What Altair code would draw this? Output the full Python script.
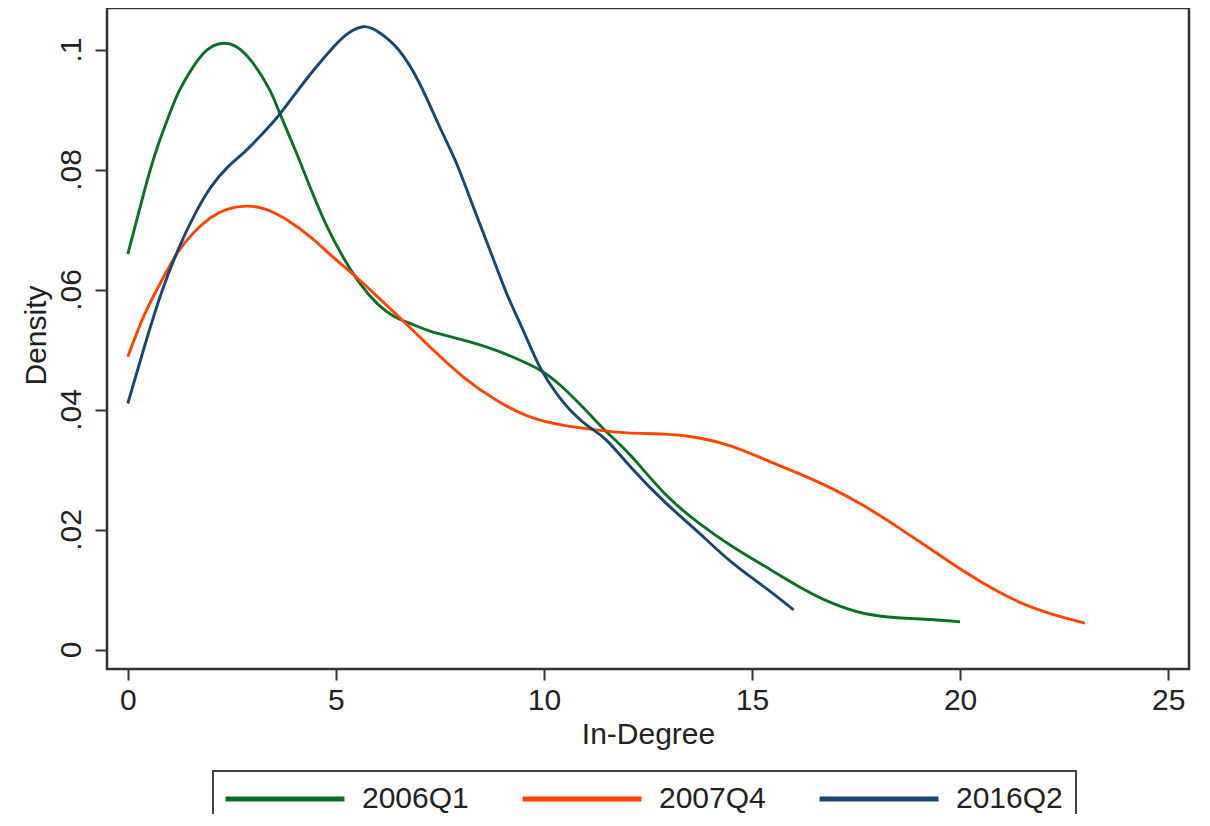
import altair as alt
import pandas as pd

series = ["2006Q1", "2007Q4", "2016Q2"]
colors = ["#0b7025", "#ff4500", "#1a476f"]

x_2006q1 = [0, 0.4, 0.7, 1.0, 1.25, 1.57, 1.9, 2.25, 2.6, 3.0, 3.4, 3.65, 4.05, 4.4,
            4.8, 5.2, 5.6, 6.0, 6.4, 6.8, 7.3, 8.0, 8.8, 9.4, 9.9, 10.4, 11.0, 11.5,
            12.1, 12.9, 13.7, 14.5, 15.3, 16.1, 16.9, 17.7, 18.5, 19.3, 20.0]
y_2006q1 = [0.0659, 0.0765, 0.0835, 0.0892, 0.0933, 0.0971, 0.0999, 0.1010, 0.1005,
            0.0978, 0.0934, 0.0894, 0.0828, 0.0767, 0.0703, 0.0651, 0.0608, 0.0576,
            0.0555, 0.0543, 0.0530, 0.0517, 0.0500, 0.0483, 0.0466, 0.0440, 0.0399,
            0.0363, 0.0322, 0.0260, 0.0212, 0.0173, 0.0139, 0.0106, 0.0078, 0.0060,
            0.0053, 0.0050, 0.0046]

x_2007q4 = [0, 0.4, 0.8, 1.2, 1.6, 2.0, 2.4, 2.85, 3.3, 3.8, 4.4, 4.9, 5.5, 6.0, 6.7,
            7.25, 8.05, 8.85, 9.65, 10.45, 11.25, 12.0, 12.9, 13.7, 14.5, 15.3, 16.1,
            16.9, 17.7, 18.5, 19.3, 20.1, 20.9, 21.7, 22.5, 23.0]
y_2007q4 = [0.0488, 0.0558, 0.0613, 0.0662, 0.0696, 0.0720, 0.0734, 0.0739, 0.0734,
            0.0717, 0.0687, 0.0656, 0.0620, 0.0588, 0.0542, 0.0505, 0.0455, 0.0416,
            0.0388, 0.0374, 0.0366, 0.0361, 0.0359, 0.0353, 0.0339, 0.0317, 0.0294,
            0.0269, 0.0239, 0.0204, 0.0167, 0.0130, 0.0097, 0.0071, 0.0053, 0.0044]

x_2016q2 = [0, 0.4, 0.8, 1.2, 1.6, 2.0, 2.4, 2.8, 3.2, 3.6, 4.0, 4.4, 4.8, 5.2, 5.65,
            6.05, 6.5, 7.0, 7.5, 7.9, 8.3, 8.7, 9.1, 9.5, 9.9, 10.3, 10.7, 11.1, 11.5,
            12.1, 12.9, 13.7, 14.5, 15.3, 16.0]
y_2016q2 = [0.0410, 0.0505, 0.0593, 0.0665, 0.0724, 0.0771, 0.0804, 0.0829, 0.0857,
            0.0888, 0.0924, 0.0960, 0.0993, 0.1022, 0.1038, 0.1028, 0.1000, 0.0945,
            0.0870, 0.0810, 0.0738, 0.0666, 0.0594, 0.0532, 0.0471, 0.0427, 0.0394,
            0.0370, 0.0349, 0.0303, 0.0246, 0.0196, 0.0146, 0.0104, 0.0066]

x_ticks = [0, 5, 10, 15, 20, 25]
y_ticks = [0, 0.02, 0.04, 0.06, 0.08, 0.1]

rows = []
for name, xs, ys in zip(series, [x_2006q1, x_2007q4, x_2016q2],
                        [y_2006q1, y_2007q4, y_2016q2]):
    for xv, yv in zip(xs, ys):
        rows.append({"deg": xv, "dens": yv, "period": name})
df = pd.DataFrame(rows)

FONT = "Liberation Sans"
TXT = "#222222"
LINE = "#333333"

chart = alt.Chart(df).mark_line(strokeWidth=2.9, interpolate="natural").encode(
    x=alt.X(
        "deg:Q",
        scale=alt.Scale(domain=[-0.5, 25.5], nice=False, zero=False),
        axis=alt.Axis(
            title="In-Degree", values=x_ticks, grid=False, domain=False,
            tickSize=11, tickWidth=2, tickColor=LINE,
            labelFont=FONT, labelFontSize=30, labelColor=TXT,
            labelBaseline="alphabetic", labelPadding=29, labelFlush=False,
            titleFont=FONT, titleFontSize=30, titleFontWeight="normal",
            titleColor=TXT, titleBaseline="alphabetic", titleY=74,
        ),
    ),
    y=alt.Y(
        "dens:Q",
        scale=alt.Scale(domain=[-0.00325, 0.10692], nice=False, zero=False),
        axis=alt.Axis(
            title="Density", values=y_ticks, grid=False, domain=False,
            labelExpr="datum.value == 0 ? '0' : slice(format(datum.value, '.2~f'), 1)",
            tickSize=12, tickWidth=2, tickColor=LINE,
            labelFont=FONT, labelFontSize=30, labelColor=TXT,
            labelAngle=270, labelAlign="center", labelBaseline="alphabetic",
            labelPadding=15, labelFlush=False,
            titleFont=FONT, titleFontSize=30, titleFontWeight="normal",
            titleColor=TXT, titleAngle=270, titleAlign="center",
            titleBaseline="alphabetic", titleX=-62, titleY=327,
        ),
    ),
    color=alt.Color(
        "period:N",
        scale=alt.Scale(domain=series, range=colors),
        legend=alt.Legend(
            title=None, orient="none", legendX=106, legendY=763,
            direction="horizontal", symbolType="M-1.3,0H8.7", symbolSize=566,
            symbolStrokeWidth=5, labelFont=FONT, labelFontSize=30,
            labelColor=TXT, labelOffset=106, columnPadding=43, padding=13,
            strokeColor="#444444", labelLimit=0,
        ),
    ),
).properties(
    width=1082,
    height=661,
    autosize=alt.AutoSizeParams(type="none"),
    padding={"left": 99, "top": 0, "right": 5, "bottom": 145},
).configure_view(
    stroke=LINE, strokeWidth=2.5
).configure_legend(
    strokeWidth=2
)

chart.save("out.html", embed_options={"renderer": "svg", "actions": False})
